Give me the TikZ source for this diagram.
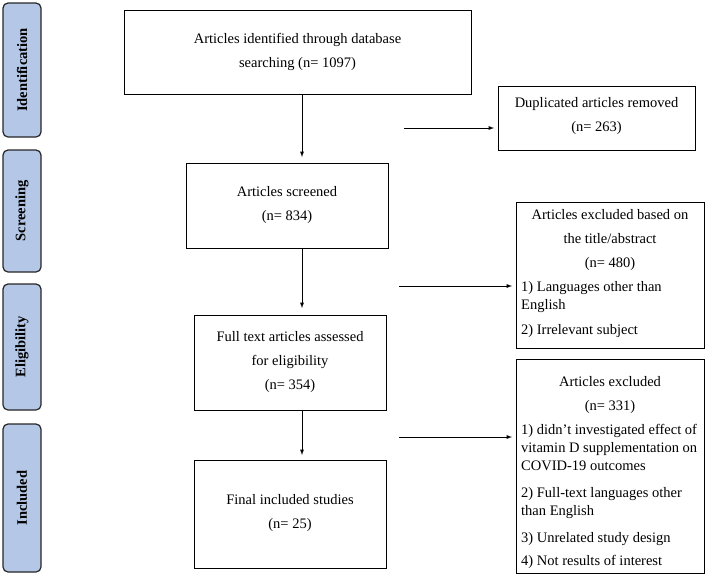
\documentclass[tikz,border=0pt]{standalone}
\usepackage{fontspec}
\setmainfont{Liberation Serif}
\begin{document}
\begin{tikzpicture}[x=1pt,y=-1pt,
 stage/.style={draw=black!85,line width=1.2pt,rounded corners=5pt},
 box/.style={draw,line width=0.9pt,align=center},
 arr/.style={-latex,line width=0.9pt},
 hd/.style={align=center,font=\fontsize{14.5}{24}\selectfont},
 li/.style={align=left,anchor=north west,inner sep=0pt,font=\fontsize{14.5}{18}\selectfont},
 every node/.style={font=\fontsize{14.5}{18}\selectfont}]
\useasboundingbox (0,0) rectangle (709,576);
\tikzset{stage/.append style={fill={rgb,255:red,180;green,199;blue,231}}}
\foreach \n/\a/\b/\t in {s1/3/137/Identification,s2/150/272/Screening,s3/284/410/Eligibility,s4/424/572/Included}{
 \draw[stage] (3,\a) rectangle (41,\b);
 \node[rotate=90,font=\fontsize{14.5}{16}\selectfont\bfseries] (\n) at (22,{(\a+\b)/2}) {\t};
}
\draw[box] (124,10) rectangle (471,94);
\node[hd] (a1) at (297.5,52) {Articles identified through database\\searching (n= 1097)};
\draw[box] (498,86) rectangle (695,150);
\node[hd] (d) at (596.5,116) {Duplicated articles removed\\(n= 263)};
\draw[box] (516,202) rectangle (704,348);
\node[hd] (e1h) at (610,240) {Articles excluded based on\\the title/abstract\\(n= 480)};
\node[li] (e1) at (521,281) {1) Languages other than\\English};
\node[li] (e1b) at (521,324) {2) Irrelevant subject};
\draw[box] (186,163) rectangle (388,248);
\node[hd] (a2) at (287,205) {Articles screened\\(n= 834)};
\draw[box] (194,315) rectangle (386,410);
\node[hd] (a3) at (290,362) {Full text articles assessed\\for eligibility\\(n= 354)};
\draw[box] (516,359) rectangle (704,573);
\node[hd] (e2h) at (610,395) {Articles excluded\\(n= 331)};
\node[li] (e21) at (521,424) {1) didn’t investigated effect of\\vitamin D supplementation on\\COVID-19 outcomes};
\node[li] (e22) at (521,487) {2) Full-text languages other\\than English};
\node[li] (e23) at (521,532) {3) Unrelated study design};
\node[li] (e24) at (521,555) {4) Not results of interest};
\draw[box] (194,460) rectangle (386,568);
\node[hd] (a4) at (290,513) {Final included studies\\(n= 25)};
\coordinate (v1a) at (302,94); \coordinate (v1b) at (302,157);
\coordinate (v2a) at (302,248); \coordinate (v2b) at (302,308);
\coordinate (v3a) at (302,410); \coordinate (v3b) at (302,455);
\coordinate (h1a) at (404,128); \coordinate (h1b) at (494,128);
\coordinate (h2a) at (399,286); \coordinate (h2b) at (512,286);
\coordinate (h3a) at (399,437); \coordinate (h3b) at (512,437);
\foreach \p in {v1,v2,v3,h1,h2,h3} \draw[arr] (\p a) -- (\p b);
\end{tikzpicture}
\end{document}
